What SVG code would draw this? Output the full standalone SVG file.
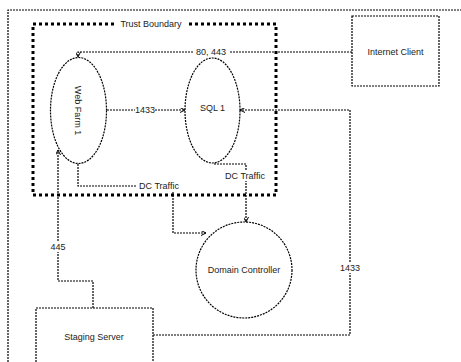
<svg xmlns="http://www.w3.org/2000/svg" width="461" height="362" viewBox="0 0 461 362">
<defs>
<style>
text{font-family:"Liberation Sans",Arial,sans-serif;font-size:9px;fill:#222;}
.frame{fill:none;stroke:#000;stroke-width:1.2;stroke-dasharray:2 1;}
.tb{fill:none;stroke:#000;stroke-width:3;stroke-dasharray:3 3;}
.node{fill:#fff;stroke:#000;stroke-width:1.2;stroke-dasharray:2 1;}
.conn{fill:none;stroke:#000;stroke-width:1.2;stroke-dasharray:2 1;}
.lbl{fill:#fff;}
</style>
<marker id="arr" viewBox="0 0 6 6" refX="6" refY="3" markerWidth="5" markerHeight="5" orient="auto" markerUnits="userSpaceOnUse">
<path d="M0,0 L6,3 L0,6" fill="none" stroke="#000" stroke-width="1.2"/>
</marker>
</defs>
<rect width="461" height="362" fill="#fff"/>
<g id="page-frame">
<path class="frame" d="M8,362 L8,10 L461,10"/>
</g>
<g id="trust-boundary">
<rect class="tb" x="33" y="24" width="243" height="171"/>
<rect class="lbl" x="115" y="18" width="72" height="12"/>
<text x="151" y="27" text-anchor="middle">Trust Boundary</text>
</g>
<g id="connectors">
<path class="conn" d="M352,52 L78,52 L78,57" marker-end="url(#arr)"/>
<path class="conn" d="M107,110 L185,110" marker-end="url(#arr)"/>
<path class="conn" d="M153,335 L350,335 L350,110 L240,110" marker-end="url(#arr)"/>
<path class="conn" d="M78,164 L78,186 L173,186 L173,233 L206,233" marker-end="url(#arr)"/>
<path class="conn" d="M214,164 L246,164 L246,222" marker-end="url(#arr)"/>
<path class="conn" d="M93,308 L93,281 L58,281 L58,150" marker-end="url(#arr)"/>
<rect class="lbl" x="193" y="47" width="36" height="10"/>
<text x="211" y="55" text-anchor="middle">80, 443</text>
<rect class="lbl" x="135" y="105" width="20" height="10"/>
<text x="145" y="113" text-anchor="middle">1433</text>
<rect class="lbl" x="340" y="263" width="20" height="10"/>
<text x="350" y="271" text-anchor="middle">1433</text>
<rect class="lbl" x="137" y="181" width="44" height="10"/>
<text x="159" y="189" text-anchor="middle">DC Traffic</text>
<rect class="lbl" x="223" y="171" width="45" height="10"/>
<text x="245" y="179" text-anchor="middle">DC Traffic</text>
<rect class="lbl" x="49" y="242" width="18" height="10"/>
<text x="58" y="250" text-anchor="middle">445</text>
</g>
<g id="web-farm-1">
<ellipse class="node" cx="78.5" cy="110.5" rx="28" ry="53"/>
<text transform="translate(75,110.5) rotate(90)" text-anchor="middle">Web Farm 1</text>
</g>
<g id="sql-1">
<ellipse class="node" cx="212.5" cy="110.5" rx="27.5" ry="52.5"/>
<text x="212.5" y="111" text-anchor="middle">SQL 1</text>
</g>
<g id="internet-client">
<rect class="node" x="352" y="16" width="87" height="70"/>
<text x="395.5" y="55" text-anchor="middle">Internet Client</text>
</g>
<g id="domain-controller">
<circle class="node" cx="244" cy="270" r="48"/>
<text x="244" y="273" text-anchor="middle">Domain Controller</text>
</g>
<g id="staging-server">
<path class="node" d="M36,362 L36,308 L153,308 L153,362"/>
<text x="94" y="340" text-anchor="middle">Staging Server</text>
</g>
</svg>
